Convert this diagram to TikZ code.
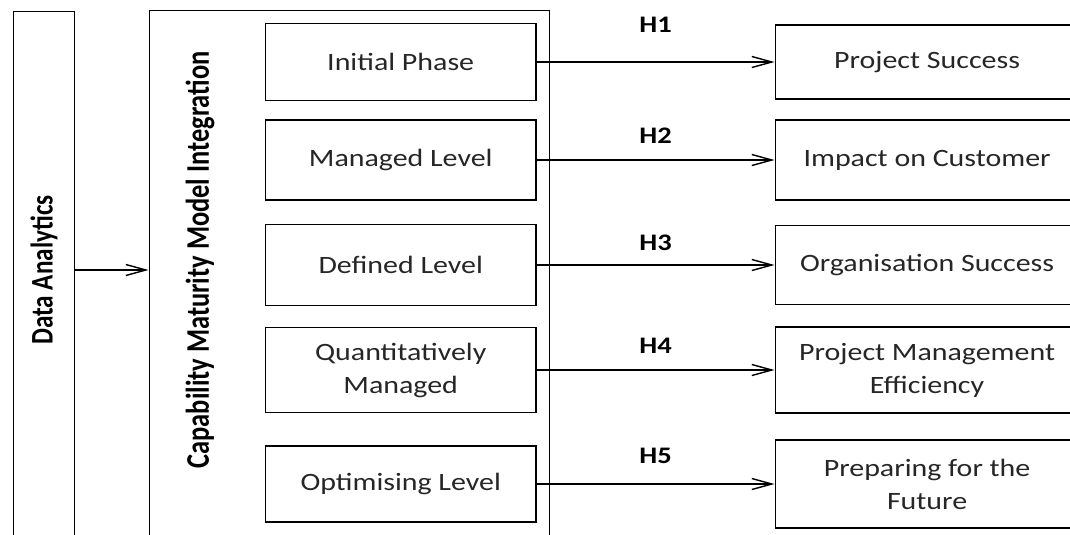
\documentclass[tikz,border=0pt]{standalone}
\usepackage{fontspec}
\setmainfont{Carlito}[FakeStretch=1.2]
\newfontfamily\tallfont{Carlito}[FakeStretch=0.8]
\usetikzlibrary{positioning,arrows.meta}
\tikzset{
  panel/.style={rectangle, draw, line width=0.7pt, anchor=north west},
  stage/.style={rectangle, draw, line width=0.7pt, minimum width=5.41cm, align=center, text=black!85},
  result/.style={rectangle, draw, line width=0.7pt, minimum width=6.08cm, align=center, text=black!85},
  hyp/.style={font=\fontsize{13.5}{15}\selectfont\bfseries},
  applyOp/.style={-{Straight Barb[length=4mm,width=2.2mm]}, line width=0.8pt}
}
\begin{document}
\begin{tikzpicture}[x=0.02cm, y=-0.02cm, font=\fontsize{14.2}{18.8}\selectfont]
      \useasboundingbox (0,0) rectangle (1070,534);
      \clip (0,0) rectangle (1070,534);
      % outer frames, open at the bottom
      \node [panel, minimum width=1.23cm, minimum height=11cm] (daframe) at (12.5,10.5) {};
      \node [panel, minimum width=8.01cm, minimum height=11cm] (cmmiframe) at (148.5,10) {};
      \node [rotate=90, font=\tallfont\fontsize{17.9}{20}\selectfont\bfseries] (da) at (44,270) {Data Analytics};
      \node [rotate=90, font=\tallfont\fontsize{18.8}{20}\selectfont\bfseries] (cmmi) at (200,260) {Capability Maturity Model Integration};
      % CMMI levels
      \node [stage, minimum height=1.54cm] (init) at (400.7,62) {Initial Phase};
      \node [stage, minimum height=1.6cm] (managed) at (400.7,160) {Managed Level};
      \node [stage, minimum height=1.62cm] (defined) at (400.7,265) {Defined Level};
      \node [stage, minimum height=1.7cm] (quant) at (400.7,370) {Quantitatively\\Managed};
      \node [stage, minimum height=1.52cm] (optim) at (400.7,484) {Optimising Level};
      % outcomes
      \node [result, minimum height=1.48cm, right=4.76cm of init] (projsucc) {Project Success};
      \node [result, minimum height=1.6cm, right=4.76cm of managed] (customer) {Impact on Customer};
      \node [result, minimum height=1.58cm, right=4.76cm of defined] (orgsucc) {Organisation Success};
      \node [result, minimum height=1.72cm, right=4.76cm of quant] (pmeff) {Project Management\\Efficiency};
      \node [result, minimum height=1.76cm, right=4.76cm of optim] (future) {Preparing for the\\Future};
      \draw [applyOp] (daframe.east |- da) -- (cmmiframe.west |- da);
      \foreach \a/\b/\h/\d in {init/projsucc/H1/4.5mm, managed/customer/H2/2mm, defined/orgsucc/H3/1.6mm, quant/pmeff/H4/2mm, optim/future/H5/2.8mm}
        \draw [applyOp] (\a) -- node [hyp, above=\d] {\h} (\b);
    \end{tikzpicture}
\end{document}
